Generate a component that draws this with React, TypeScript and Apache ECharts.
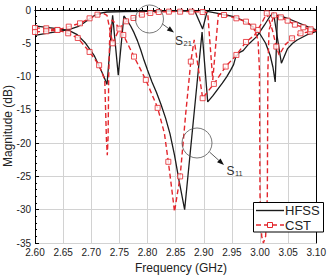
import { useEffect, useRef } from "react";
import * as echarts from "echarts";

// Frequency sweep limits (GHz) and magnitude limits (dB)
const freqMin = 2.6;
const freqMax = 3.1;
const freqStep = 0.05;
const magMin = -35;
const magMax = 0;
const magStep = 5;

// HFSS results: [frequency GHz, magnitude dB]
const hfssS11: number[][] = [
  [2.6, -2.4], [2.62, -2.6], [2.64, -2.8], [2.66, -3.05], [2.675, -3.7], [2.69, -5.0],
  [2.705, -6.8], [2.715, -8.6], [2.722, -9.9], [2.728, -11.2], [2.738, -0.8], [2.748, -9.8],
  [2.758, -0.9], [2.764, -1.6], [2.77, -2.4], [2.776, -3.4], [2.782, -4.6], [2.788, -6.0],
  [2.794, -7.6], [2.8, -9.0], [2.808, -10.8], [2.816, -12.4], [2.824, -14.2], [2.832, -16.2],
  [2.84, -18.6], [2.848, -21.8], [2.856, -25.6], [2.866, -30.0], [2.897, -3.3], [2.907, -13.8],
  [2.916, -12.9], [2.924, -12.0], [2.933, -11.0], [2.941, -10.0], [2.948, -9.0], [2.953, -8.2],
  [2.957, -7.0], [2.963, -6.4], [2.97, -6.1], [2.98, -5.1], [2.994, -4.0], [3.008, -2.25],
  [3.018, -0.9], [3.024, -0.45], [3.038, -8.0], [3.049, -5.8], [3.058, -5.0], [3.066, -4.5],
  [3.083, -3.75], [3.1, -3.2],
];

const hfssS21: number[][] = [
  [2.6, -3.8], [2.62, -3.5], [2.64, -3.25], [2.66, -2.95], [2.676, -2.5], [2.686, -2.0],
  [2.694, -1.5], [2.704, -0.9], [2.714, -0.5], [2.728, -0.3], [2.76, -0.25], [2.8, -0.2],
  [2.85, -0.15], [2.884, -0.15], [2.898, -2.85], [2.906, -0.2], [2.925, -0.5], [2.94, -0.75],
  [2.953, -1.0], [2.968, -1.5], [2.984, -2.3], [3.0, -3.6], [3.01, -5.0], [3.018, -6.8],
  [3.023, -8.6], [3.027, -10.8], [3.031, -0.75], [3.04, -1.0], [3.05, -1.3], [3.065, -1.8],
  [3.08, -2.35], [3.09, -2.7], [3.1, -3.0],
];

// CST results: [frequency GHz, magnitude dB, marker shown (1) or not (0)]
const cstS11: number[][] = [
  [2.6, -2.7, 1], [2.62, -2.75, 1], [2.64, -3.0, 1], [2.659, -3.5, 1], [2.676, -4.2, 1],
  [2.697, -6.3, 1], [2.714, -8.3, 1], [2.724, -10.5, 0], [2.727, -19.5, 0], [2.7285, -21.8, 0],
  [2.73, -19.0, 0], [2.731, -10.0, 0], [2.733, -3.5, 0], [2.737, -1.5, 0], [2.745, -2.2, 0],
  [2.757, -3.75, 1], [2.776, -7.0, 1], [2.797, -10.5, 1], [2.818, -14.7, 1], [2.83, -18.5, 0],
  [2.837, -22.8, 1], [2.843, -26.8, 0], [2.848, -30.3, 0], [2.858, -25.0, 1], [2.868, -15.5, 0],
  [2.877, -7.75, 1], [2.883, -4.5, 0], [2.898, -13.25, 1], [2.918, -11.1, 1], [2.939, -8.5, 1],
  [2.958, -6.75, 1], [2.975, -4.8, 1], [2.99, -3.8, 0], [2.996, -3.0, 1], [3.004, -1.8, 0],
  [3.012, -0.5, 1], [3.022, -3.0, 0], [3.029, -5.5, 1], [3.034, -6.75, 0], [3.045, -5.2, 0],
  [3.057, -4.25, 1], [3.072, -3.5, 1], [3.089, -3.25, 1], [3.1, -3.1, 0],
];

const cstS21: number[][] = [
  [2.6, -3.3, 1], [2.62, -3.2, 1], [2.64, -3.0, 1], [2.66, -2.5, 1], [2.68, -2.0, 1],
  [2.697, -1.25, 1], [2.711, -0.7, 1], [2.722, -0.55, 0], [2.728, -0.8, 0], [2.738, -5.0, 1],
  [2.75, -2.8, 1], [2.762, -1.7, 1], [2.775, -1.2, 1], [2.79, -0.7, 1], [2.805, -0.45, 1],
  [2.82, -0.3, 1], [2.838, -0.25, 1], [2.858, -0.25, 1], [2.878, -0.25, 1], [2.898, -0.3, 1],
  [2.907, -0.4, 0], [2.916, -10.5, 0], [2.926, -0.6, 0], [2.936, -0.75, 1], [2.958, -1.25, 1],
  [2.975, -1.75, 1], [2.988, -2.5, 1], [2.9965, -4.5, 0], [2.999, -9.0, 0], [3.0, -28.0, 0],
  [3.003, -34.0, 0], [3.006, -35.0, 0], [3.01, -34.0, 0], [3.013, -28.0, 0], [3.014, -9.0, 0],
  [3.016, -3.0, 0], [3.025, -0.8, 1], [3.037, -1.1, 1], [3.049, -1.6, 1], [3.062, -2.2, 1],
  [3.077, -2.6, 1], [3.09, -2.9, 1], [3.1, -3.1, 0],
];

const FONT = "'Liberation Sans', Arial, Helvetica, sans-serif";
const RED = "#e3262c";
const BLACK = "#1b1b1b";

const curve = (points: number[][]) => points.map(([f, db]) => [f, db]);
const markers = (points: number[][]) =>
  points.filter((p) => p[2] === 1).map(([f, db]) => [f, db]);

function arrow(x1: number, y1: number, x2: number, y2: number) {
  const dx = x2 - x1;
  const dy = y2 - y1;
  const len = Math.hypot(dx, dy);
  const ux = dx / len;
  const uy = dy / len;
  const hl = 7;
  const hw = 2.6;
  const bx = x2 - ux * hl;
  const by = y2 - uy * hl;
  return [
    {
      type: "line",
      z: 100,
      shape: { x1, y1, x2: bx, y2: by },
      style: { stroke: "#333", lineWidth: 0.8 },
    },
    {
      type: "polygon",
      z: 100,
      shape: {
        points: [
          [x2, y2],
          [bx - uy * hw, by + ux * hw],
          [bx + uy * hw, by - ux * hw],
        ],
      },
      style: { fill: "#111" },
    },
  ];
}

export default function App() {
  const ref = useRef<HTMLDivElement>(null);

  useEffect(() => {
    if (!ref.current) return;
    const chart = echarts.init(ref.current, null, { renderer: "svg" });

    const axisCommon = {
      axisLine: { show: true, lineStyle: { color: "#000", width: 1 } },
    };

    const cstLine = (points: number[][]) => ({
      type: "line",
      name: "CST",
      data: curve(points),
      symbol: "none",
      clip: true,
      z: 4,
      lineStyle: { color: RED, width: 1.4, type: [5, 3] },
    });

    const cstMarks = (points: number[][]) => ({
      type: "scatter",
      name: "CST",
      data: markers(points),
      symbol: "rect",
      symbolSize: 5,
      clip: true,
      z: 5,
      itemStyle: { color: "#fff", borderColor: RED, borderWidth: 1 },
    });

    const option: any = {
      animation: false,
      backgroundColor: "#fff",
      grid: { left: 35, right: 4, top: 10, bottom: 33 },
      xAxis: [
        {
          type: "value",
          min: freqMin,
          max: freqMax,
          interval: freqStep,
          ...axisCommon,
          axisTick: { show: true, inside: true, length: 4, lineStyle: { color: "#000" } },
          minorTick: { show: true, splitNumber: 5, length: 2, lineStyle: { color: "#000" } },
          axisLabel: {
            margin: 4,
            fontSize: 10,
            color: "#222",
            fontFamily: FONT,
            formatter: (v: number) => v.toFixed(2),
          },
          splitLine: { show: true, lineStyle: { color: "#d2d2d2", width: 1 } },
        },
        {
          type: "value",
          position: "top",
          min: freqMin,
          max: freqMax,
          interval: freqStep,
          ...axisCommon,
          axisTick: { show: false },
          axisLabel: { show: false },
          splitLine: { show: false },
        },
      ],
      yAxis: [
        {
          type: "value",
          min: magMin,
          max: magMax,
          interval: magStep,
          ...axisCommon,
          axisTick: { show: true, inside: true, length: 4, lineStyle: { color: "#000" } },
          minorTick: { show: true, splitNumber: 5, length: 2, lineStyle: { color: "#000" } },
          axisLabel: { margin: 4, fontSize: 10, color: "#222", fontFamily: FONT },
          splitLine: { show: true, lineStyle: { color: "#d2d2d2", width: 1 } },
        },
        {
          type: "value",
          position: "right",
          min: magMin,
          max: magMax,
          interval: magStep,
          ...axisCommon,
          axisTick: { show: false },
          axisLabel: { show: false },
          splitLine: { show: false },
        },
      ],
      series: [
        {
          type: "line",
          name: "HFSS",
          data: hfssS11,
          symbol: "none",
          clip: true,
          z: 3,
          lineStyle: { color: BLACK, width: 1.3 },
        },
        {
          type: "line",
          name: "HFSS",
          data: hfssS21,
          symbol: "none",
          clip: true,
          z: 3,
          lineStyle: { color: BLACK, width: 1.3 },
        },
        cstLine(cstS11),
        cstLine(cstS21),
        cstMarks(cstS11),
        cstMarks(cstS21),
      ],
      graphic: [
        // axis titles
        {
          type: "text",
          z: 100,
          x: 181,
          y: 268,
          style: {
            text: "Frequency (GHz)",
            fontSize: 12,
            fontFamily: FONT,
            fill: "#222",
            align: "center",
            verticalAlign: "middle",
          },
        },
        {
          type: "text",
          z: 100,
          x: 8,
          y: 126,
          rotation: Math.PI / 2,
          style: {
            text: "Magnitude (dB)",
            fontSize: 12,
            fontFamily: FONT,
            fill: "#222",
            align: "center",
            verticalAlign: "middle",
          },
        },
        // S21 callout
        {
          type: "circle",
          z: 100,
          shape: { cx: 149.5, cy: 19, r: 14 },
          style: { stroke: "#555", lineWidth: 0.8, fill: "none" },
        },
        ...arrow(162.5, 24, 174, 32.5),
        {
          type: "text",
          z: 100,
          x: 175,
          y: 35,
          style: { text: "S", fontSize: 12, fontFamily: FONT, fill: "#333" },
        },
        {
          type: "text",
          z: 100,
          x: 183.5,
          y: 39.5,
          style: { text: "21", fontSize: 7.5, fontFamily: FONT, fill: "#333" },
        },
        // S11 callout
        {
          type: "circle",
          z: 100,
          shape: { cx: 197, cy: 143, r: 15 },
          style: { stroke: "#555", lineWidth: 0.8, fill: "none" },
        },
        ...arrow(209.5, 152, 224, 165),
        {
          type: "text",
          z: 100,
          x: 226.5,
          y: 165,
          style: { text: "S", fontSize: 12, fontFamily: FONT, fill: "#333" },
        },
        {
          type: "text",
          z: 100,
          x: 235,
          y: 169.5,
          style: { text: "11", fontSize: 7.5, fontFamily: FONT, fill: "#333" },
        },
        // legend
        {
          type: "rect",
          z: 100,
          shape: { x: 253.5, y: 202.5, width: 70, height: 29.5 },
          style: { fill: "#fff", stroke: "#000", lineWidth: 1 },
        },
        {
          type: "line",
          z: 101,
          shape: { x1: 256, y1: 210.5, x2: 284, y2: 210.5 },
          style: { stroke: BLACK, lineWidth: 1.4 },
        },
        {
          type: "text",
          z: 101,
          x: 285,
          y: 210.5,
          style: {
            text: "HFSS",
            fontSize: 13,
            fontFamily: FONT,
            fill: "#222",
            verticalAlign: "middle",
          },
        },
        {
          type: "line",
          z: 101,
          shape: { x1: 256, y1: 225, x2: 284, y2: 225 },
          style: { stroke: RED, lineWidth: 1.4, lineDash: [5, 3] },
        },
        {
          type: "rect",
          z: 102,
          shape: { x: 267.5, y: 222.5, width: 5, height: 5 },
          style: { fill: "#fff", stroke: RED, lineWidth: 1 },
        },
        {
          type: "text",
          z: 101,
          x: 285,
          y: 225,
          style: {
            text: "CST",
            fontSize: 13,
            fontFamily: FONT,
            fill: "#222",
            verticalAlign: "middle",
          },
        },
      ],
    };

    chart.setOption(option);
    return () => chart.dispose();
  }, []);

  return (
    <div
      ref={ref}
      style={{ position: "fixed", left: 0, top: 0, width: 329, height: 276, background: "#fff" }}
    />
  );
}
